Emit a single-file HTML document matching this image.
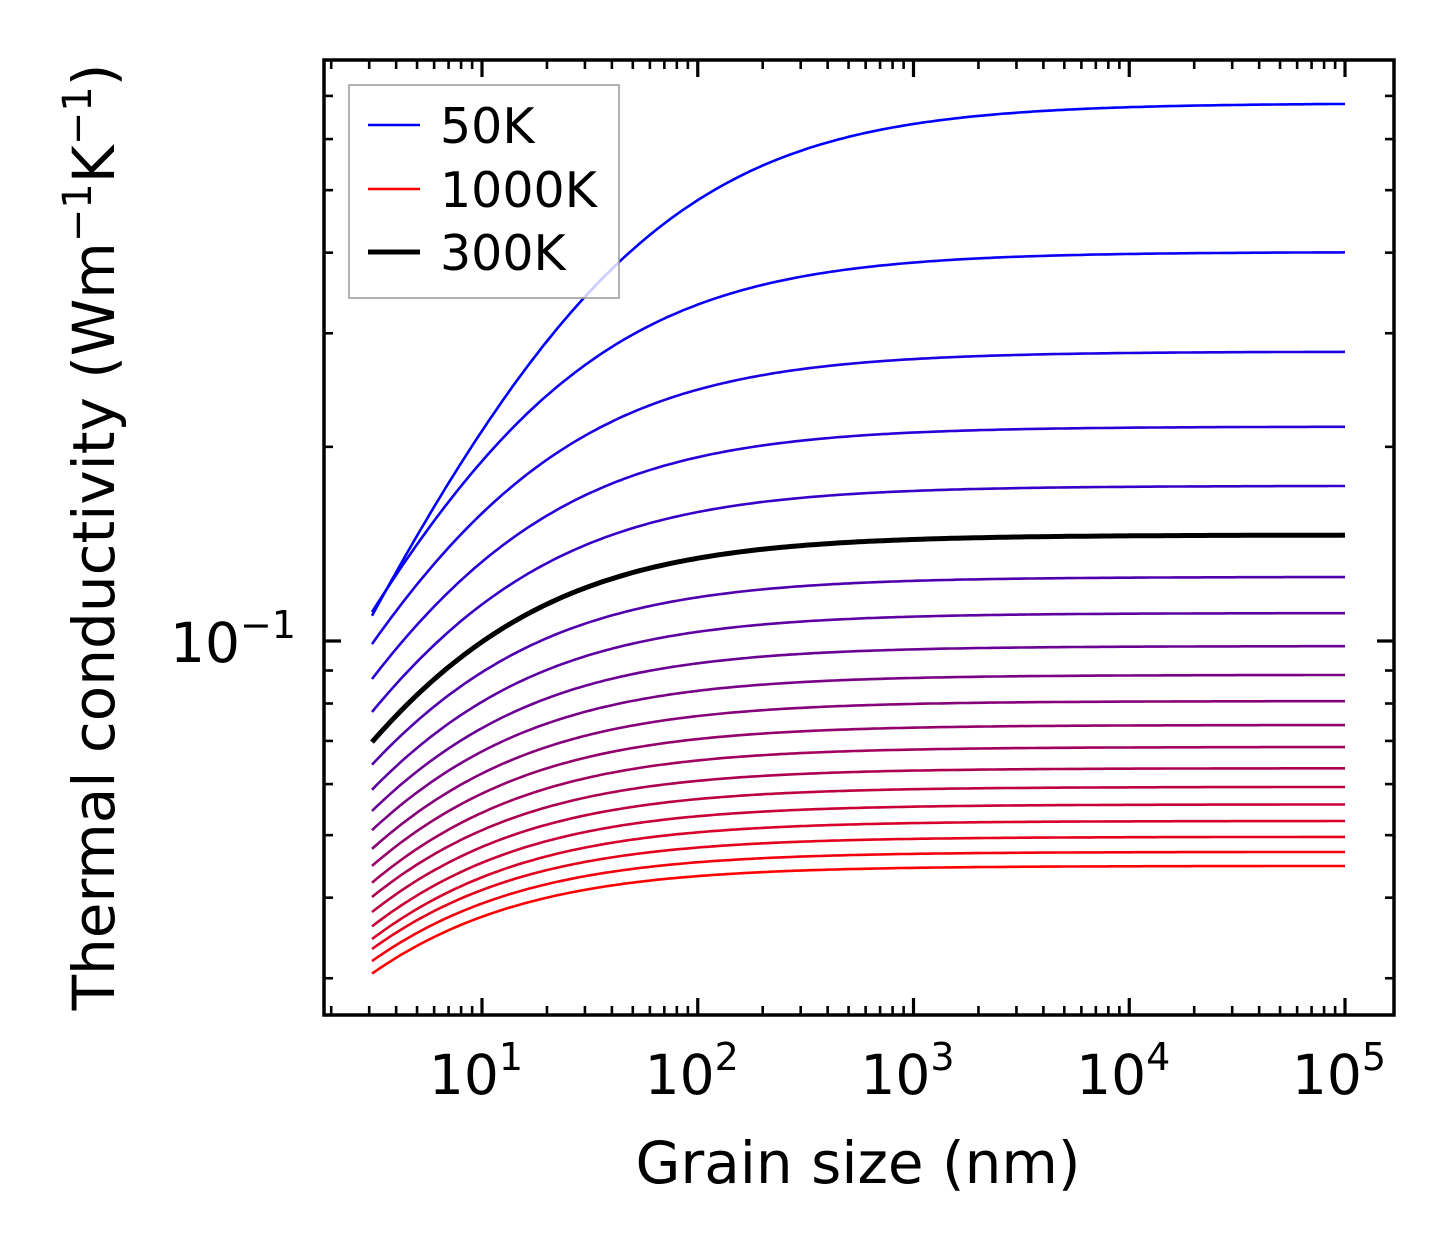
<!DOCTYPE html>
<html><head><meta charset="utf-8"><style>
body{margin:0;background:#fff;}
svg{display:block;font-family:"DejaVu Sans","Liberation Sans",sans-serif;}
</style></head><body>
<svg id="chart" width="1454" height="1254" viewBox="0 0 1454 1254">
<rect x="0" y="0" width="1454" height="1254" fill="#fff"/>
<g id="curves"></g>
<g id="ticks"></g>
<rect x="324" y="60" width="1070" height="955" fill="none" stroke="#000" stroke-width="3.5"/>
<g>
<rect x="349" y="85" width="270" height="213" fill="#fff" fill-opacity="0.8" stroke="#999" stroke-width="1.5"/>
<line x1="368" y1="125" x2="420" y2="125" stroke="#0000ff" stroke-width="2.5"/>
<text x="440" y="143" font-size="49">50K</text>
<line x1="368" y1="189" x2="420" y2="189" stroke="#ff0000" stroke-width="2.5"/>
<text x="440" y="207" font-size="49">1000K</text>
<line x1="368" y1="252" x2="420" y2="252" stroke="#000" stroke-width="5"/>
<text x="440" y="270" font-size="49">300K</text>
</g>
<text x="858" y="1183" font-size="58" text-anchor="middle">Grain size (nm)</text>
<text transform="translate(114,537) rotate(-90)" font-size="58" text-anchor="middle">Thermal conductivity (Wm<tspan font-size="40" dy="-23">−1</tspan><tspan dy="23">K</tspan><tspan font-size="40" dy="-23">−1</tspan><tspan dy="23">)</tspan></text>
<text x="296" y="662" font-size="55" text-anchor="end">10<tspan font-size="38" dy="-24">−1</tspan></text>
</svg>
<script>
const temperatures = [50,100,150,200,250,300,350,400,450,500,550,600,650,700,750,800,850,900,950,1000];
const bulkK = [0.682,0.401,0.281,0.215,0.174,0.146,0.1257,0.1105,0.0982,0.0886,0.0807,0.0741,0.0685,0.0635,0.0594,0.0558,0.0526,0.0497,0.0471,0.0448];
const smallGrainK = [0.1094,0.1109,0.0989,0.0873,0.0776,0.0697,0.0643,0.0588,0.0545,0.0509,0.0476,0.0448,0.0422,0.0401,0.0380,0.0361,0.0345,0.0333,0.0319,0.0305];
const xTickExps = [1,2,3,4,5];
const grainMin = 3.09, grainMax = 1e5;

const NS = "http://www.w3.org/2000/svg";
function xs(L){ return 482 + (Math.log10(L)-1)*215.75; }
function ys(k){ return 641 - (Math.log10(k)+1)*645; }
const curves = document.getElementById('curves');
const ticks = document.getElementById('ticks');
const svg = document.getElementById('chart');
const a = 0.73;
temperatures.forEach((T,i)=>{
  const kb = bulkK[i], k0 = smallGrainK[i];
  const lam = grainMin*Math.pow(kb/k0-1, 1/a);
  let d = "";
  for(let j=0;j<=200;j++){
    const L = grainMin*Math.pow(grainMax/grainMin, j/200);
    const k = kb/(1+Math.pow(lam/L,a));
    d += (j?"L":"M")+xs(L).toFixed(1)+","+ys(k).toFixed(1);
  }
  const p = document.createElementNS(NS,'path');
  p.setAttribute('d',d);
  p.setAttribute('fill','none');
  const t = i/(temperatures.length-1);
  const is300 = T===300;
  p.setAttribute('stroke', is300 ? '#000' : `rgb(${Math.round(255*t)},0,${Math.round(255*(1-t))})`);
  p.setAttribute('stroke-width', is300 ? 5 : 2.6);
  
  
  if(is300) curves.appendChild(p); else curves.insertBefore(p, curves.firstChild);
});
function line(x1,y1,x2,y2,w,name){
  const l=document.createElementNS(NS,'line');
  l.setAttribute('x1',x1);l.setAttribute('y1',y1);l.setAttribute('x2',x2);l.setAttribute('y2',y2);
  l.setAttribute('stroke','#000');l.setAttribute('stroke-width',w);
  
  
  ticks.appendChild(l);
}
for(let e=0;e<=5;e++){
  for(let m=1;m<=9;m++){
    const L=m*Math.pow(10,e);
    const x=xs(L);
    if(x<326||x>1392) continue;
    const major=m===1;
    const len=major?17:9;
    line(x,1015,x,1015-len,major?3.2:2.6,'x-tick');
    line(x,60,x,60+len,major?3.2:2.6,'x-tick-top');
  }
}
xTickExps.forEach(e=>{
  const t=document.createElementNS(NS,'text');
  t.setAttribute('x',xs(Math.pow(10,e))-6);t.setAttribute('y',1094);
  t.setAttribute('font-size','55');t.setAttribute('text-anchor','middle');
  t.innerHTML='10<tspan font-size="38" dy="-24">'+e+'</tspan>';
  
  
  svg.appendChild(t);
});
[0.03,0.04,0.05,0.06,0.07,0.08,0.09,0.1,0.2,0.3,0.4,0.5,0.6,0.7].forEach(v=>{
  const y=ys(v);
  const major=Math.abs(v-0.1)<1e-9;
  const len=major?17:9;
  line(324,y,324+len,y,major?3.2:2.6,'y-tick');
  line(1394,y,1394-len,y,major?3.2:2.6,'y-tick-right');
});
</script>
</body></html>
